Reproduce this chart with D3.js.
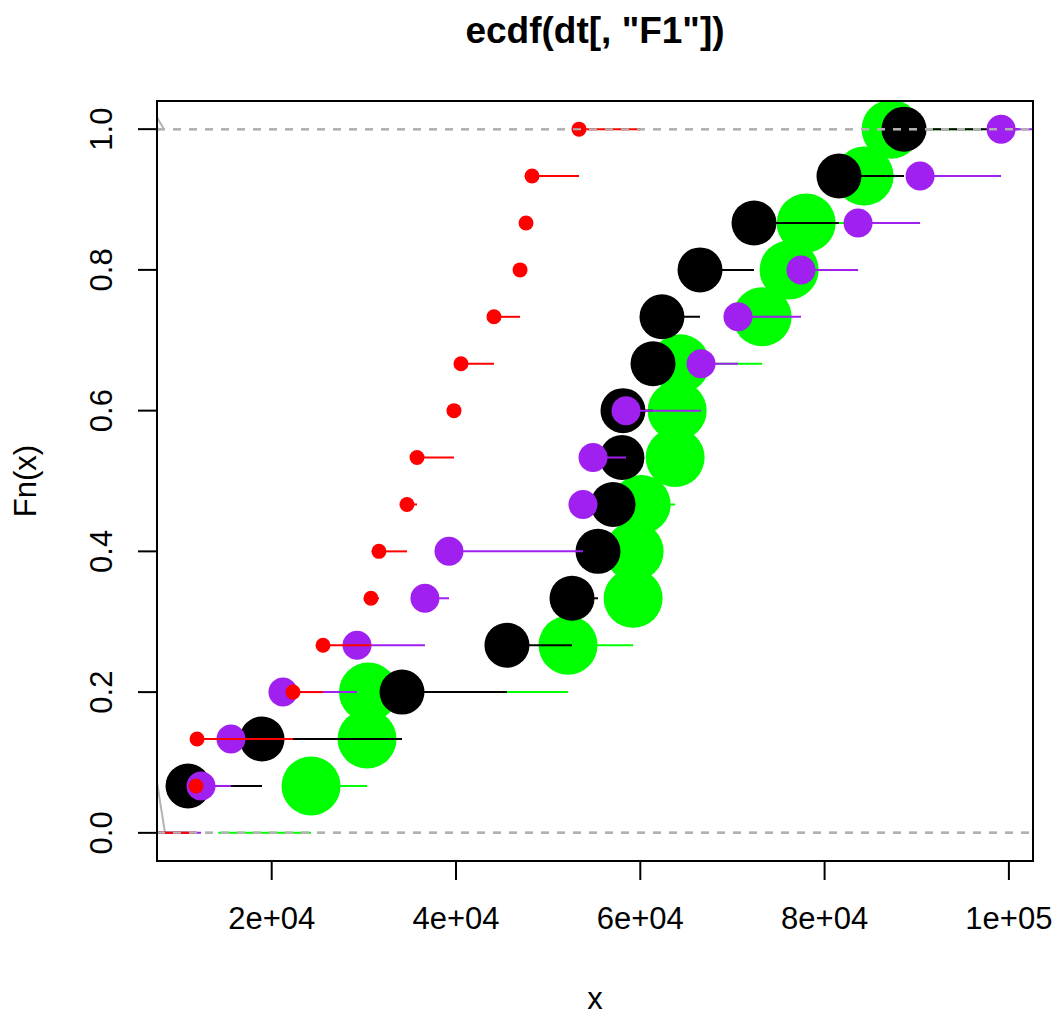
<!DOCTYPE html>
<html>
<head>
<meta charset="utf-8">
<script src="https://cdn.jsdelivr.net/npm/d3@7"></script>
<style>
  body { margin: 0; background: #fff; }
  svg { display: block; font-family: "Liberation Sans", Arial, Helvetica, sans-serif; }
</style>
</head>
<body>
<div id="chart"></div>
<script>
(function(d3) {
'use strict';

// sorted sample values of each series
var greenX  = [24270, 30350, 30500, 52160, 59220, 59330, 60090, 63780, 64000, 64320, 73220, 76150, 78000, 84290, 87220];
var blackX  = [10920, 18950, 34140, 45530, 52590, 55410, 57040, 58010, 58120, 61380, 62350, 66480, 72340, 81560, 88620];
var purpleX = [12330, 15580, 21220, 29260, 36630, 39240, 53780, 54870, 58450, 66590, 70600, 77440, 83630, 90360, 99150];
var redX    = [11790, 11900, 22310, 25570, 30770, 31640, 34680, 35770, 39780, 40540, 44120, 46950, 47600, 48250, 53350];

// short grey strokes at the left border
var grayBottomX = [7445, 8422];
var grayBottomY = [0.0806, 0];
var grayTopX = [7300, 8314];
var grayTopY = [1.022, 1.0];

var xTicks = [20000, 40000, 60000, 80000, 100000];
var xTickLabels = ['2e+04', '4e+04', '6e+04', '8e+04', '1e+05'];
var yTicks = [0, 0.2, 0.4, 0.6, 0.8, 1.0];
var yTickLabels = ['0.0', '0.2', '0.4', '0.6', '0.8', '1.0'];

var width = 1064;
var height = 1017;
var plot = {left: 157, right: 1033, top: 101, bottom: 861};

// draw order matters: green first, red last
var series = [
  { name: 'green',  values: greenX,  color: '#00ff00', r: 29.5 },
  { name: 'black',  values: blackX,  color: '#000000', r: 22.5 },
  { name: 'purple', values: purpleX, color: '#a020f0', r: 14.5 },
  { name: 'red',    values: redX,    color: '#ff0000', r: 7.5 }
];

var x = d3.scaleLinear().domain([7553, 102615]).range([plot.left, plot.right]);
var y = d3.scaleLinear().domain([-0.04, 1.04]).range([plot.bottom, plot.top]);

var svg = d3.select('#chart')
  .append('svg')
  .attr('width', width)
  .attr('height', height);

svg.append('defs').append('clipPath')
  .attr('id', 'clip')
  .append('rect')
  .attr('x', plot.left)
  .attr('y', plot.top)
  .attr('width', plot.right - plot.left)
  .attr('height', plot.bottom - plot.top);

var g = svg.append('g').attr('clip-path', 'url(#clip)');

var line = d3.line()
  .x(function(d) { return x(d[0]); })
  .y(function(d) { return y(d[1]); });

g.append('path')
  .attr('d', line(d3.zip(grayBottomX, grayBottomY)))
  .attr('stroke', '#b3b3b3').attr('stroke-width', 2).attr('fill', 'none');
g.append('path')
  .attr('d', line(d3.zip(grayTopX, grayTopY)))
  .attr('stroke', '#b3b3b3').attr('stroke-width', 2).attr('fill', 'none');

function drawZeroOne() {
  g.selectAll(null)
    .data([0, 1])
    .enter()
    .append('line')
    .attr('x1', plot.left)
    .attr('x2', plot.right)
    .attr('y1', function(d) { return y(d); })
    .attr('y2', function(d) { return y(d); })
    .attr('stroke', '#b3b3b3')
    .attr('stroke-width', 2)
    .attr('stroke-dasharray', '8,8');
}

series.forEach(function(s) {
  var v = s.values;
  var n = v.length;
  var diffs = d3.pairs(v, function(a, b) { return b - a; });
  // same extension as R's plot.stepfun
  var dr = Math.max(0.08 * (v[n - 1] - v[0]), d3.median(diffs));
  var ti = [v[0] - 2 * dr].concat(v, [v[n - 1] + 2 * dr]);
  var steps = d3.range(n + 1).map(function(i) {
    return { x1: ti[i], x2: ti[i + 1], f: i / n };
  });

  var sg = g.append('g').attr('class', s.name);

  sg.selectAll('line')
    .data(steps)
    .enter()
    .append('line')
    .attr('x1', function(d) { return x(d.x1); })
    .attr('x2', function(d) { return x(d.x2); })
    .attr('y1', function(d) { return y(d.f); })
    .attr('y2', function(d) { return y(d.f); })
    .attr('stroke', s.color)
    .attr('stroke-width', 2);

  sg.selectAll('circle')
    .data(v)
    .enter()
    .append('circle')
    .attr('cx', function(d) { return x(d); })
    .attr('cy', function(d, i) { return y((i + 1) / n); })
    .attr('r', s.r)
    .attr('fill', s.color);

  drawZeroOne();
});

// box
svg.append('rect')
  .attr('x', plot.left)
  .attr('y', plot.top)
  .attr('width', plot.right - plot.left)
  .attr('height', plot.bottom - plot.top)
  .attr('fill', 'none')
  .attr('stroke', '#000')
  .attr('stroke-width', 2);

// x axis
var xa = svg.append('g');
xa.selectAll('line')
  .data(xTicks)
  .enter()
  .append('line')
  .attr('x1', function(d) { return x(d); })
  .attr('x2', function(d) { return x(d); })
  .attr('y1', plot.bottom)
  .attr('y2', plot.bottom + 19)
  .attr('stroke', '#000')
  .attr('stroke-width', 2);
xa.selectAll('text')
  .data(xTicks)
  .enter()
  .append('text')
  .attr('x', function(d) { return x(d); })
  .attr('y', 929)
  .attr('text-anchor', 'middle')
  .attr('font-size', 31)
  .text(function(d, i) { return xTickLabels[i]; });

// y axis
var ya = svg.append('g');
ya.selectAll('line')
  .data(yTicks)
  .enter()
  .append('line')
  .attr('x1', plot.left)
  .attr('x2', plot.left - 19)
  .attr('y1', function(d) { return y(d); })
  .attr('y2', function(d) { return y(d); })
  .attr('stroke', '#000')
  .attr('stroke-width', 2);
ya.selectAll('text')
  .data(yTicks)
  .enter()
  .append('text')
  .attr('transform', function(d) { return 'translate(112,' + y(d) + ') rotate(-90)'; })
  .attr('text-anchor', 'middle')
  .attr('font-size', 31)
  .text(function(d, i) { return yTickLabels[i]; });

svg.append('text')
  .attr('x', (plot.left + plot.right) / 2)
  .attr('y', 1009)
  .attr('text-anchor', 'middle')
  .attr('font-size', 31)
  .text('x');

svg.append('text')
  .attr('transform', 'translate(36,' + (plot.top + plot.bottom) / 2 + ') rotate(-90)')
  .attr('text-anchor', 'middle')
  .attr('font-size', 31)
  .text('Fn(x)');

svg.append('text')
  .attr('x', (plot.left + plot.right) / 2)
  .attr('y', 43)
  .attr('text-anchor', 'middle')
  .attr('font-size', 37)
  .attr('font-weight', 'bold')
  .text('ecdf(dt[, "F1"])');

})(window.d3);
</script>
</body>
</html>
